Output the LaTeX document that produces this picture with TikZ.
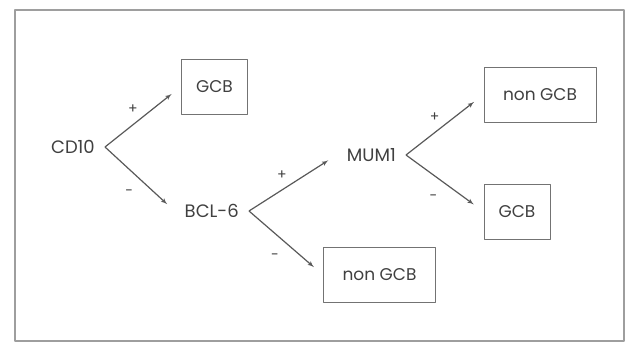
\documentclass[tikz,border=0pt]{standalone}
\usepackage[x11names, svgnames, rgb]{xcolor}
\usepackage{fontspec}
\setmainfont{Poppins}
\usepackage{tikz}
\usetikzlibrary{arrows, positioning}
\definecolor{framegray}{rgb}{0.62, 0.62, 0.62}
\definecolor{linegray}{rgb}{0.35, 0.35, 0.35}
\definecolor{boxgray}{rgb}{0.45, 0.45, 0.45}
\definecolor{textgray}{rgb}{0.25, 0.25, 0.25}

\begin{document}
\begin{tikzpicture}[>=latex', x=1pt, y=-1pt, line join=bevel,
        marker/.style={anchor=east, inner xsep=10pt, text=textgray,
                font=\fontsize{18}{20}\selectfont},
        result/.style={draw=boxgray, line width=1pt, minimum width=66pt,
                minimum height=55pt, text=textgray, font=\fontsize{17}{19}\selectfont},
        wideresult/.style={result, minimum width=112pt},
        branch/.style={->, draw=linegray, line width=1.2pt},
        plus/.style={text=textgray, font=\fontsize{14}{16}\selectfont, inner sep=0pt,
                pos=.42, above=7pt, xshift=-4pt},
        minus/.style={text=textgray, font=\fontsize{14}{16}\selectfont, inner sep=0pt,
                pos=.42, below=15pt, xshift=-5pt}]
    \useasboundingbox (0,0) rectangle (629,343);
    \draw[framegray, line width=1.4pt] (15,10) rectangle (624,341);

    % markers
    \node[marker] (cd10) at (105,147) {CD10};
    \node[marker] (bcl6) at (249,211) {BCL-6};
    \node[marker] (mum1) at (406,155) {MUM1};

    % outcomes
    \node[result] (gcbA) at (214.5,86.5) {GCB};
    \node[wideresult] (nongcbA) at (540,94.5) {non GCB};
    \node[result] (gcbB) at (517,211.5) {GCB};
    \node[wideresult] (nongcbB) at (379.5,275) {non GCB};

    % branches
    \draw[branch, shorten >=12pt] (cd10.east) -- node[plus] {+} (gcbA.west);
    \draw[branch, shorten >=10pt] (cd10.east) -- node[minus] {-} (bcl6.west);
    \draw[branch, shorten >=10pt] (bcl6.east) -- node[plus] {+} (mum1.west);
    \draw[branch, shorten >=12pt] (bcl6.east) -- node[minus] {-} (nongcbB.west);
    \draw[branch, shorten >=12pt] (mum1.east) -- node[plus] {+} (nongcbA.west);
    \draw[branch, shorten >=12pt] (mum1.east) -- node[minus] {-} (gcbB.west);
\end{tikzpicture}
\end{document}
